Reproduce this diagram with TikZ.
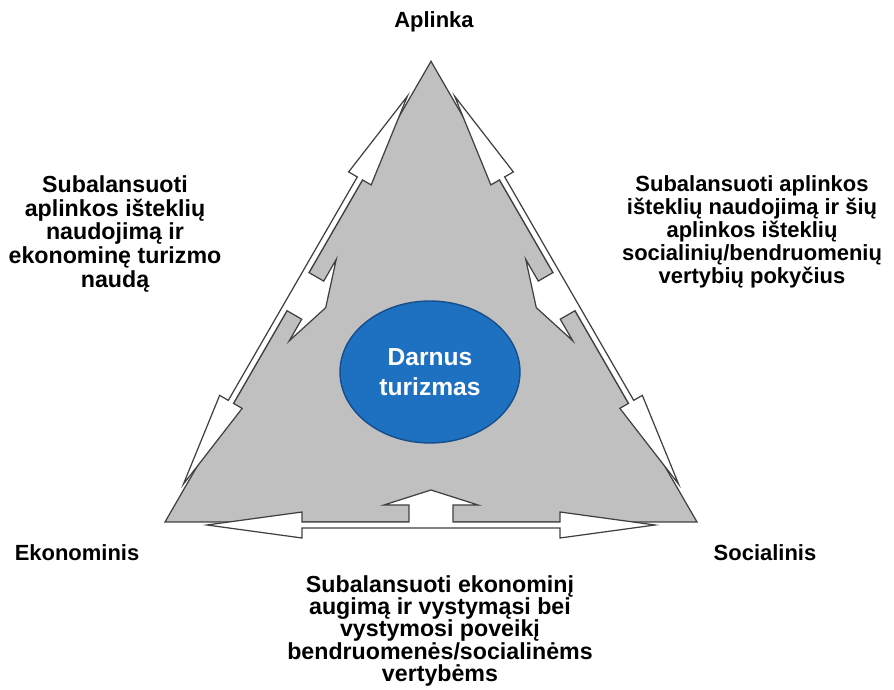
\documentclass[tikz,border=0pt]{standalone}
\usepackage{fontspec}
\setmainfont{Liberation Sans}
\usepackage{tikz}
\usetikzlibrary{shapes.geometric}
\definecolor{trigray}{RGB}{192,192,192}
\definecolor{rim}{RGB}{64,64,64}
\definecolor{coreblue}{RGB}{30,112,192}
\definecolor{coreedge}{RGB}{22,78,140}

\begin{document}
\begin{tikzpicture}[x=0.02cm,y=0.02cm,
  lbl/.style={font=\fontsize{12.5}{13}\selectfont\bfseries,align=center,text=black},
  hub/.style={ellipse,draw=coreedge,line width=0.8pt,fill=coreblue,minimum width=3.6cm,minimum height=2.84cm,inner sep=0pt,
    font=\fontsize{14}{17}\selectfont\bfseries,align=center,text=white},
  arw/.style={draw=rim,fill=white,line width=0.7pt,line join=miter}]
  \useasboundingbox (0,0) rectangle (894,690);
  \coordinate (E) at (165,168);
  \coordinate (S) at (697,168);
  \coordinate (A) at (431,628.7);
  \filldraw[fill=trigray,draw=rim,line width=0.7pt] (E) -- (S) -- (A) -- cycle;
  % double arrows along the sides, each with a branch pointing inward
  \foreach \v/\ang in {E/0,S/120,A/240}{
    \begin{scope}[shift={(\v)},rotate=\ang]
      \draw[arw] (42,-3) -- (137,-16) -- (137,-6) -- (395,-6) -- (395,-16) -- (490,-3) -- (395,10) -- (395,0)
        -- (288,0) -- (288,17) -- (313,17) -- (266,32) -- (219,17) -- (244,17) -- (244,0) -- (137,0) -- (137,10) -- cycle;
    \end{scope}}
  \node[hub] (hub) at (430,318) {Darnus\\turizmas};
  \node[lbl] (env) at (434,668) {Aplinka};
  \node[lbl] (econ) at (77,137) {Ekonominis};
  \node[lbl] (soc) at (765,137) {Socialinis};
  \node[lbl,font=\fontsize{13.2}{13.4}\selectfont\bfseries] (envecon) at (115,456) {Subalansuoti\\aplinkos išteklių\\naudojimą ir\\ekonominę turizmo\\naudą};
  \node[lbl] (envsoc) at (752,458) {Subalansuoti aplinkos\\išteklių naudojimą ir šių\\aplinkos išteklių\\socialinių/bendruomenių\\vertybių pokyčius};
  \node[lbl,font=\fontsize{13.2}{12.6}\selectfont\bfseries] (econsoc) at (440,59) {Subalansuoti ekonominį\\augimą ir vystymąsi bei\\vystymosi poveikį\\bendruomenės/socialinėms\\vertybėms};
\end{tikzpicture}
\end{document}
